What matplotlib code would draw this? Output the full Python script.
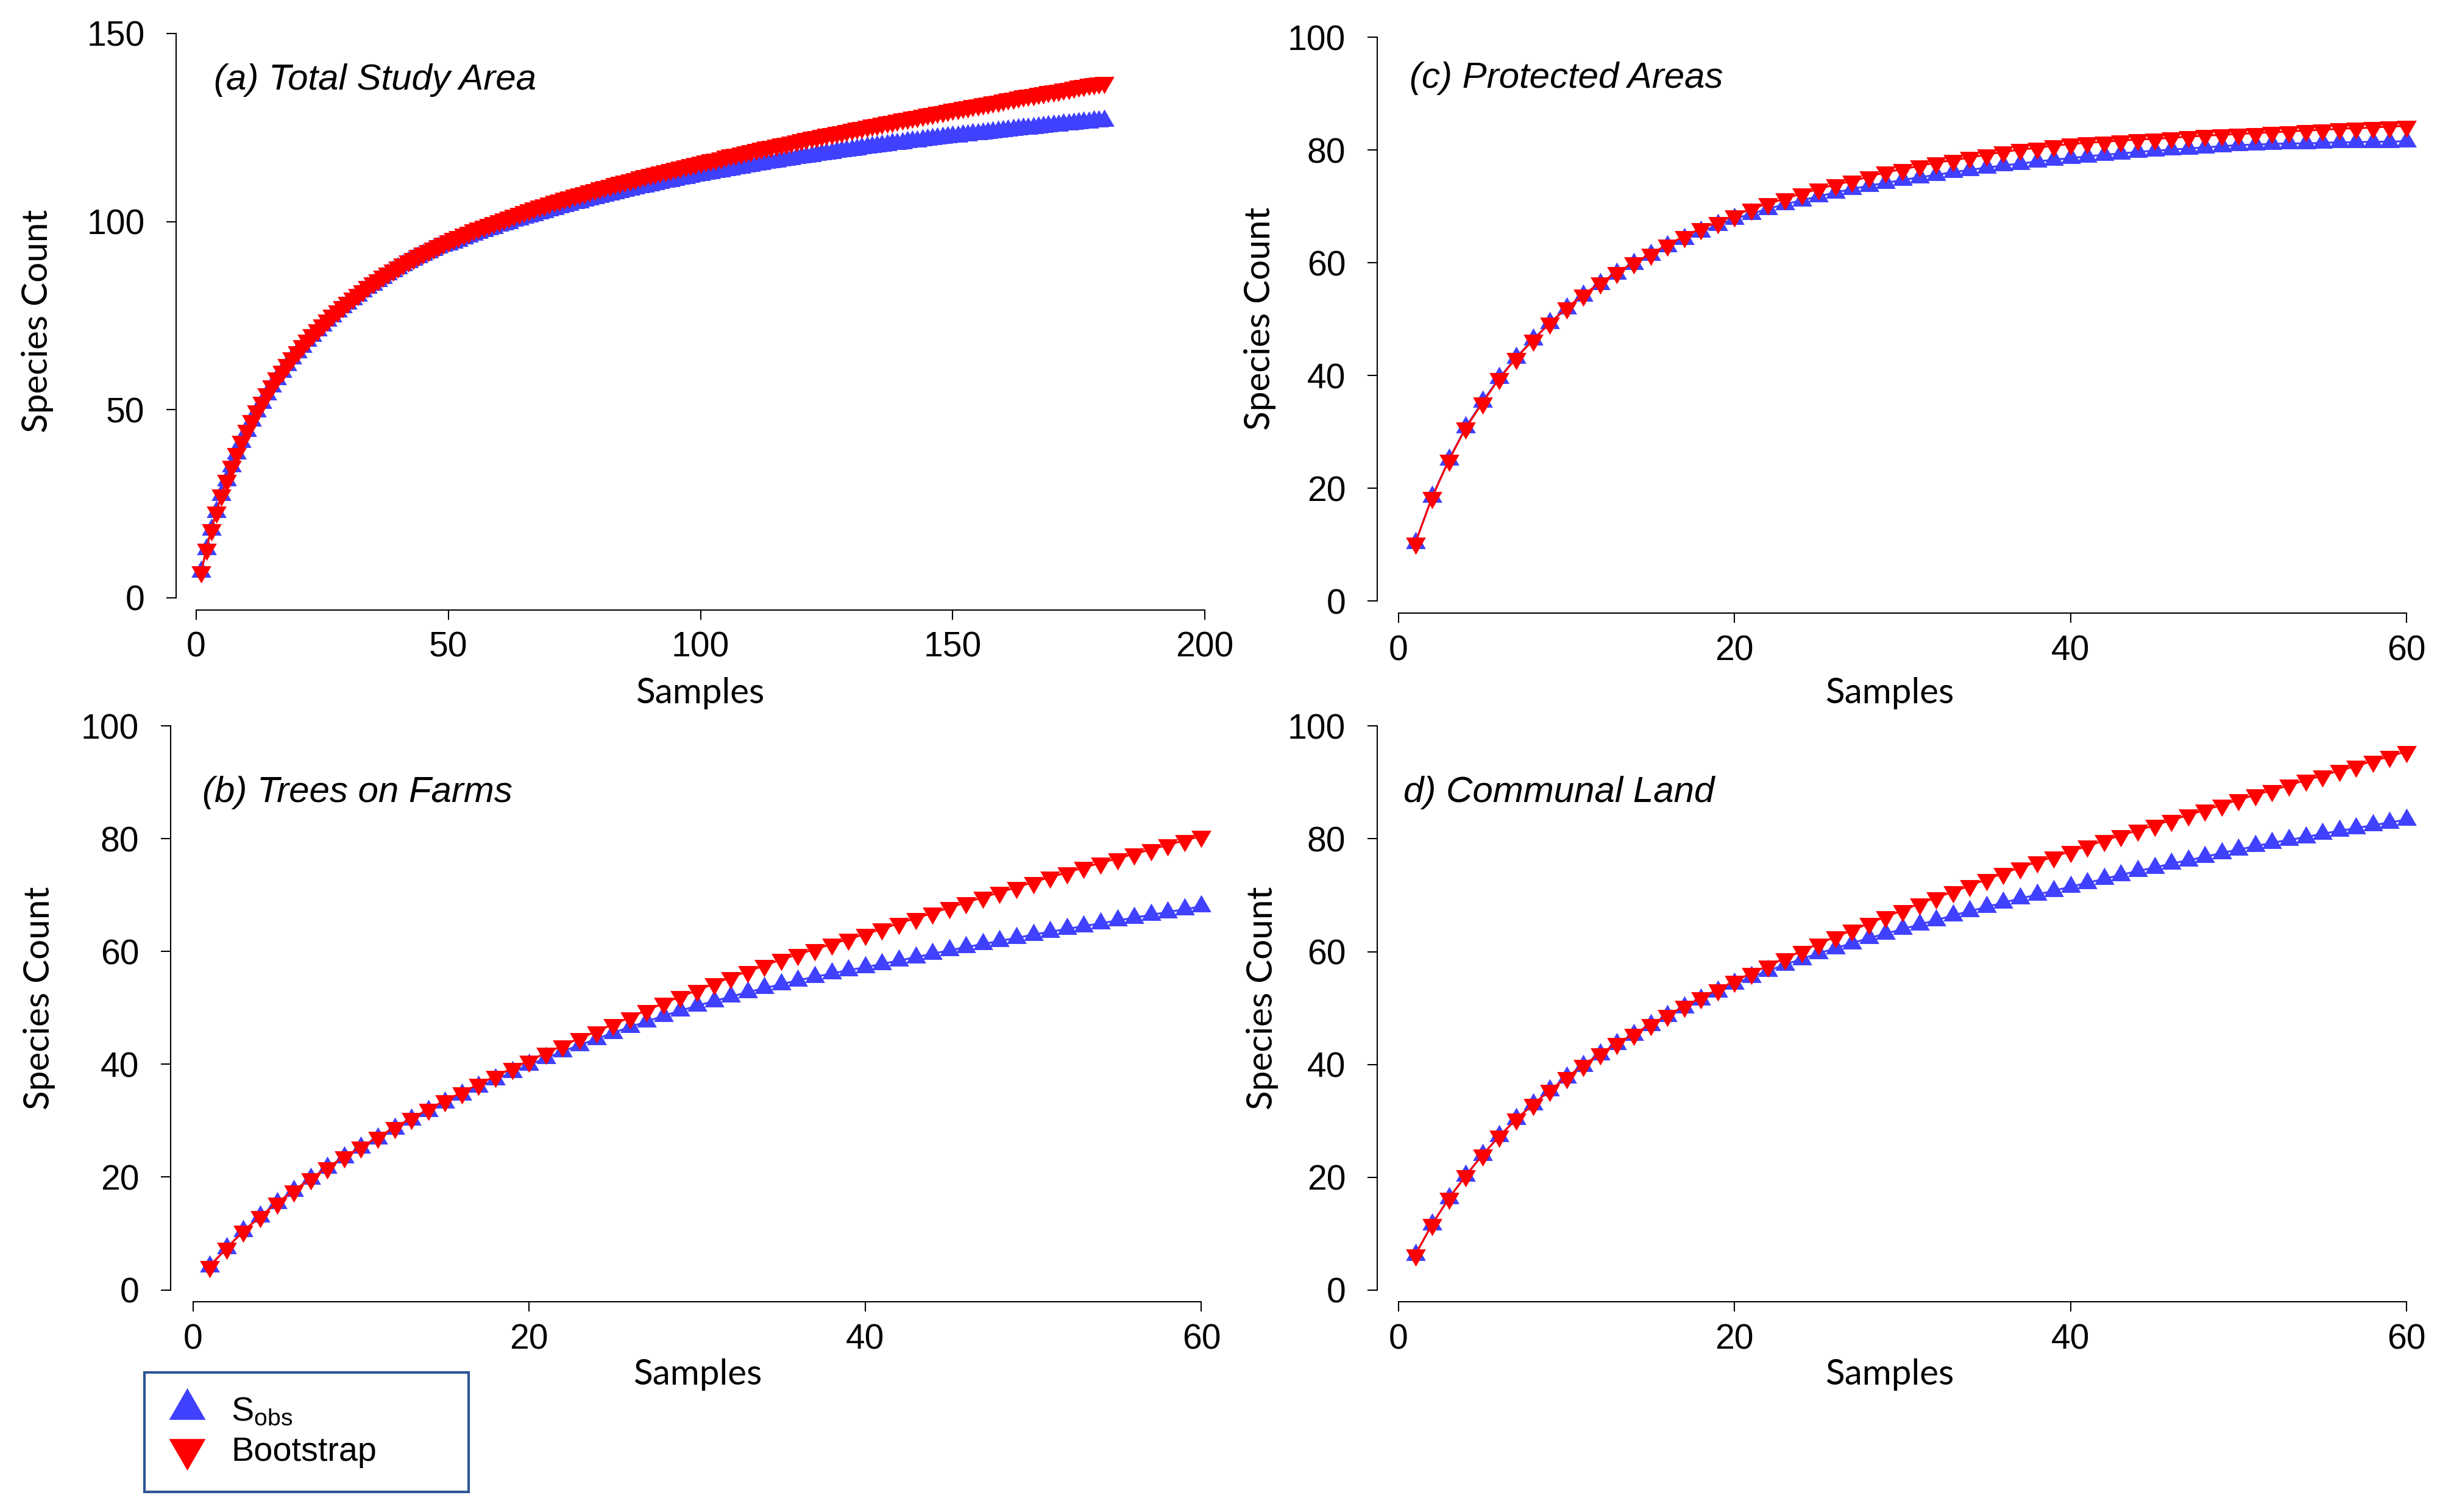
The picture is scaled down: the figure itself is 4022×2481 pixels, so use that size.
import numpy as np
import matplotlib
matplotlib.use('Agg')
import matplotlib.pyplot as plt
from matplotlib.lines import Line2D

# --- fonts ---
plt.rcParams['font.family'] = ['Liberation Sans', 'DejaVu Sans']
plt.rcParams['mathtext.fontset'] = 'custom'
plt.rcParams['mathtext.rm'] = 'Liberation Sans'
plt.rcParams['mathtext.it'] = 'Liberation Sans:italic'

# --- data ---
sobs_total = [6.9, 13.0, 18.2, 22.9, 27.3, 31.3, 35.0, 38.4, 41.5, 44.4,
              47.1, 49.6, 51.9, 54.1, 56.2, 58.2, 60.1, 61.9, 63.6, 65.2,
              66.8, 68.3, 69.7, 71.1, 72.4, 73.7, 74.9, 76.1, 77.2, 78.3,
              79.4, 80.4, 81.4, 82.4, 83.3, 84.2, 85.1, 86.0, 86.9, 87.7,
              88.5, 89.2, 89.9, 90.6, 91.2, 91.9, 92.5, 93.1, 93.6, 94.0,
              94.5, 95.0, 95.5, 96.0, 96.5, 97.0, 97.5, 98.0, 98.4, 98.9,
              99.3, 99.7, 100.2, 100.6, 101.0, 101.4, 101.8, 102.2, 102.6, 103.0,
              103.4, 103.8, 104.1, 104.5, 104.9, 105.2, 105.6, 105.9, 106.3, 106.6,
              106.9, 107.3, 107.6, 107.9, 108.2, 108.5, 108.8, 109.1, 109.4, 109.7,
              110.0, 110.3, 110.6, 110.8, 111.1, 111.4, 111.6, 111.9, 112.2, 112.4,
              112.7, 112.9, 113.2, 113.4, 113.7, 113.9, 114.2, 114.4, 114.7, 114.9,
              115.1, 115.4, 115.6, 115.8, 116.0, 116.3, 116.5, 116.7, 116.9, 117.1,
              117.3, 117.5, 117.7, 117.9, 118.1, 118.3, 118.5, 118.7, 118.9, 119.1,
              119.3, 119.5, 119.7, 119.9, 120.0, 120.2, 120.4, 120.6, 120.7, 120.9,
              121.1, 121.3, 121.4, 121.6, 121.8, 121.9, 122.1, 122.3, 122.4, 122.6,
              122.7, 122.9, 123.0, 123.2, 123.3, 123.5, 123.6, 123.8, 123.9, 124.1,
              124.2, 124.4, 124.5, 124.7, 124.8, 124.9, 125.1, 125.2, 125.4, 125.5,
              125.6, 125.8, 125.9, 126.0, 126.2, 126.3, 126.4, 126.6, 126.7, 126.8]
boot_total = [6.9, 13.0, 18.2, 22.9, 27.3, 31.3, 35.0, 38.4, 41.6, 44.5,
              47.2, 49.7, 52.0, 54.3, 56.4, 58.4, 60.3, 62.1, 63.8, 65.4,
              67.0, 68.5, 69.9, 71.3, 72.6, 73.9, 75.1, 76.3, 77.5, 78.6,
              79.7, 80.7, 81.7, 82.7, 83.7, 84.6, 85.5, 86.3, 87.2, 88.0,
              88.8, 89.5, 90.3, 91.0, 91.7, 92.4, 93.0, 93.7, 94.3, 94.9,
              95.5, 96.1, 96.7, 97.2, 97.8, 98.3, 98.8, 99.3, 99.8, 100.3,
              100.8, 101.3, 101.8, 102.2, 102.7, 103.2, 103.6, 104.1, 104.5, 105.0,
              105.4, 105.8, 106.2, 106.6, 107.0, 107.4, 107.8, 108.2, 108.6, 109.0,
              109.4, 109.7, 110.1, 110.5, 110.8, 111.2, 111.5, 111.9, 112.2, 112.6,
              112.9, 113.2, 113.6, 113.9, 114.2, 114.5, 114.9, 115.2, 115.5, 115.8,
              116.1, 116.4, 116.7, 117.0, 117.4, 117.7, 118.0, 118.3, 118.6, 118.9,
              119.2, 119.5, 119.8, 120.1, 120.4, 120.7, 120.9, 121.2, 121.5, 121.8,
              122.1, 122.4, 122.6, 122.9, 123.2, 123.5, 123.8, 124.0, 124.3, 124.6,
              124.9, 125.1, 125.4, 125.7, 125.9, 126.2, 126.5, 126.7, 127.0, 127.3,
              127.5, 127.8, 128.0, 128.3, 128.6, 128.8, 129.1, 129.3, 129.6, 129.9,
              130.1, 130.4, 130.6, 130.9, 131.1, 131.4, 131.6, 131.9, 132.1, 132.4,
              132.6, 132.9, 133.1, 133.4, 133.6, 133.8, 134.1, 134.3, 134.6, 134.8,
              135.0, 135.3, 135.5, 135.8, 136.0, 136.2, 136.5, 136.7, 136.9, 137.1]

sobs_farms = [4.2, 7.4, 10.4, 13.0, 15.4, 17.6, 19.7, 21.7, 23.5, 25.2,
              26.9, 28.6, 30.2, 31.7, 33.2, 34.6, 36.0, 37.3, 38.6, 39.9,
              41.1, 42.3, 43.4, 44.5, 45.6, 46.6, 47.6, 48.6, 49.5, 50.4,
              51.2, 52.0, 52.8, 53.5, 54.2, 54.9, 55.5, 56.1, 56.7, 57.2,
              57.8, 58.4, 59.0, 59.6, 60.2, 60.8, 61.3, 61.9, 62.4, 63.0,
              63.5, 64.0, 64.5, 65.0, 65.5, 66.0, 66.5, 67.0, 67.5, 68.0]
boot_farms = [4.2, 7.4, 10.4, 13.0, 15.4, 17.6, 19.7, 21.7, 23.6, 25.3,
              27.1, 28.8, 30.4, 32.0, 33.6, 35.0, 36.5, 37.9, 39.3, 40.6,
              42.0, 43.3, 44.6, 45.8, 47.1, 48.3, 49.6, 50.8, 52.0, 53.1,
              54.3, 55.4, 56.5, 57.5, 58.6, 59.5, 60.4, 61.3, 62.2, 63.1,
              64.0, 65.0, 65.9, 66.8, 67.8, 68.7, 69.6, 70.5, 71.4, 72.3,
              73.2, 74.0, 74.9, 75.7, 76.5, 77.3, 78.1, 78.9, 79.7, 80.5]

sobs_protected = [10.3, 18.5, 25.1, 30.8, 35.4, 39.6, 43.2, 46.4, 49.3, 51.9,
                  54.2, 56.3, 58.1, 59.8, 61.4, 62.9, 64.2, 65.5, 66.7, 67.8,
                  68.7, 69.6, 70.4, 71.1, 71.8, 72.5, 73.1, 73.7, 74.2, 74.7,
                  75.2, 75.6, 76.1, 76.5, 76.9, 77.3, 77.6, 78.0, 78.3, 78.6,
                  78.9, 79.2, 79.4, 79.7, 79.9, 80.1, 80.3, 80.5, 80.7, 80.9,
                  81.0, 81.1, 81.2, 81.2, 81.3, 81.4, 81.4, 81.5, 81.5, 81.6]
boot_protected = [10.3, 18.4, 25.0, 30.7, 35.2, 39.5, 43.1, 46.3, 49.3, 52.0,
                  54.3, 56.5, 58.3, 60.0, 61.6, 63.2, 64.7, 66.1, 67.2, 68.4,
                  69.6, 70.5, 71.4, 72.3, 73.1, 73.9, 74.5, 75.3, 76.1, 76.6,
                  77.2, 77.8, 78.2, 78.7, 79.2, 79.7, 80.1, 80.4, 80.8, 81.1,
                  81.3, 81.5, 81.7, 81.9, 82.0, 82.2, 82.4, 82.6, 82.7, 82.9,
                  83.0, 83.2, 83.3, 83.5, 83.6, 83.8, 83.9, 84.0, 84.2, 84.3]

sobs_communal = [6.3, 11.7, 16.3, 20.3, 24.0, 27.3, 30.3, 32.9, 35.4, 37.7,
                 39.8, 41.8, 43.6, 45.3, 47.0, 48.6, 50.1, 51.5, 52.9, 54.3,
                 55.5, 56.6, 57.7, 58.7, 59.7, 60.6, 61.5, 62.4, 63.2, 64.0,
                 64.8, 65.6, 66.4, 67.2, 67.9, 68.7, 69.4, 70.1, 70.8, 71.5,
                 72.2, 72.9, 73.6, 74.3, 74.9, 75.6, 76.2, 76.8, 77.5, 78.1,
                 78.7, 79.3, 79.8, 80.3, 80.9, 81.4, 81.9, 82.4, 82.9, 83.4]
boot_communal = [6.3, 11.7, 16.3, 20.3, 24.0, 27.3, 30.3, 32.9, 35.4, 37.7,
                 39.9, 41.9, 43.7, 45.4, 47.1, 48.7, 50.3, 51.8, 53.3, 54.8,
                 56.2, 57.5, 58.8, 60.1, 61.4, 62.6, 63.8, 65.0, 66.2, 67.3,
                 68.5, 69.6, 70.6, 71.7, 72.8, 73.9, 74.9, 75.9, 76.8, 77.8,
                 78.7, 79.7, 80.6, 81.5, 82.4, 83.3, 84.2, 85.1, 86.0, 86.9,
                 87.8, 88.6, 89.5, 90.4, 91.2, 92.1, 92.9, 93.8, 94.6, 95.5]

series_names = ['S$_{\\mathrm{obs}}$', 'Bootstrap']

# --- style ---
BLUE = '#4040FF'
RED = '#FF0000'
# triangles centred on their centroid (like the original spreadsheet markers)
TRI_UP = [(0, 1.1547), (-1, -0.5774), (1, -0.5774)]
TRI_DOWN = [(0, -1.1547), (-1, 0.5774), (1, 0.5774)]

W, H = 4022, 2481
DPI = 300
fig = plt.figure(figsize=(W / DPI, H / DPI), dpi=DPI)


def fx(px):
    return px / W


def fy(py):
    return 1 - py / H


# panel layout in pixels: data-area left/right/bottom/top, spine offsets (pt),
# title baseline, y-label centre, x-label centre
panels = [
    dict(title='(a) Total Study Area', sobs=sobs_total, boot=boot_total,
         xmax=200, ymax=150, xstep=50, ystep=50,
         box=(322, 1977, 981, 55), off=(7.9, 4.8),
         title_at=(351, 147), ylab_at=(62, 527), xlab_at=(1149, 1137)),
    dict(title='(c) Protected Areas', sobs=sobs_protected, boot=boot_protected,
         xmax=60, ymax=100, xstep=20, ystep=20,
         box=(2295, 3949, 986, 61.5), off=(8.4, 4.8),
         title_at=(2313, 144), ylab_at=(2068, 523), xlab_at=(3101, 1137)),
    dict(title='(b) Trees on Farms', sobs=sobs_farms, boot=boot_farms,
         xmax=60, ymax=100, xstep=20, ystep=20,
         box=(316.6, 1971.4, 2116.5, 1191.2), off=(8.8, 4.7),
         title_at=(332, 1316), ylab_at=(65, 1638), xlab_at=(1145, 2256)),
    dict(title='d) Communal Land', sobs=sobs_communal, boot=boot_communal,
         xmax=60, ymax=100, xstep=20, ystep=20,
         box=(2295, 3949, 2117, 1191.2), off=(8.4, 4.6),
         title_at=(2303, 1316), ylab_at=(2071, 1638), xlab_at=(3101, 2256)),
]

MS = 9.07       # plot marker size (pt)
LW = 0.75

for p in panels:
    x0, x1, yb, yt = p['box']
    ax = fig.add_axes([fx(x0), fy(yb), (x1 - x0) / W, (yb - yt) / H])
    n = np.arange(1, len(p['sobs']) + 1)
    ax.plot(n, p['sobs'], color=BLUE, lw=LW, marker=TRI_UP, ms=MS,
            mew=0, clip_on=False, zorder=3)
    ax.plot(n, p['boot'], color=RED, lw=LW, marker=TRI_DOWN, ms=MS,
            mew=0, clip_on=False, zorder=4)

    ax.set_xlim(0, p['xmax'])
    ax.set_ylim(0, p['ymax'])
    ax.set_xticks(np.arange(0, p['xmax'] + 1, p['xstep']))
    ax.set_yticks(np.arange(0, p['ymax'] + 1, p['ystep']))

    for s in ['top', 'right']:
        ax.spines[s].set_visible(False)
    ax.spines['left'].set_position(('outward', p['off'][0]))
    ax.spines['bottom'].set_position(('outward', p['off'][1]))
    for s in ['left', 'bottom']:
        ax.spines[s].set_linewidth(0.5)
    ax.tick_params(direction='out', length=3.9, width=0.5, labelsize=13.7)
    ax.tick_params(axis='y', pad=8.5)
    ax.tick_params(axis='x', pad=4.5)

    ax.set_ylabel('Species Count', family=['Lato', 'DejaVu Sans'],
                  fontsize=14, va='center', ha='center')
    ax.yaxis.set_label_coords(fx(p['ylab_at'][0]), fy(p['ylab_at'][1]),
                              transform=fig.transFigure)
    ax.set_xlabel('Samples', family=['Lato', 'DejaVu Sans'],
                  fontsize=14, va='center', ha='center')
    ax.xaxis.set_label_coords(fx(p['xlab_at'][0]), fy(p['xlab_at'][1]),
                              transform=fig.transFigure)

    fig.text(fx(p['title_at'][0]), fy(p['title_at'][1]), p['title'],
             fontsize=14.4, style='italic', va='baseline', ha='left')

# --- legend (box spans x 237..769, y 2252..2447 px) ---
handles = [Line2D([], [], ls='none', marker=TRI_UP, ms=16.6, mew=0, color=BLUE),
           Line2D([], [], ls='none', marker=TRI_DOWN, ms=16.6, mew=0, color=RED)]
leg = fig.legend(handles, series_names, loc='upper left',
                 bbox_to_anchor=(fx(237), fy(2447), (769 - 237) / W, 195 / H),
                 mode='expand', borderaxespad=0, fontsize=13.4,
                 borderpad=0.7, handlelength=1.1, handletextpad=0.75,
                 labelspacing=0.25, fancybox=False, framealpha=1)
leg.get_frame().set_edgecolor('#2F5597')
leg.get_frame().set_linewidth(1.0)

fig.savefig('out.png', dpi=DPI)
